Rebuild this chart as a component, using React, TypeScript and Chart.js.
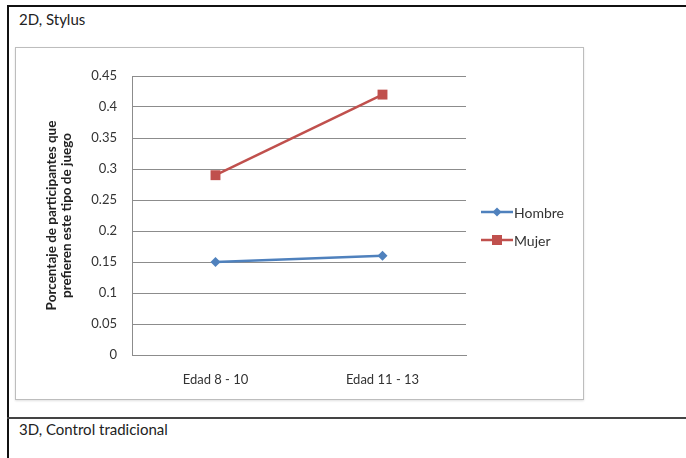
import React, { useEffect, useRef } from "react";
import { Chart, registerables } from "chart.js";

Chart.register(...registerables);

const categories = ["Edad 8 - 10", "Edad 11 - 13"];
const hombre = [0.15, 0.16];
const mujer = [0.29, 0.42];
const yTickValues = [0, 0.05, 0.1, 0.15, 0.2, 0.25, 0.3, 0.35, 0.4, 0.45];
const yTitle = ["Porcentaje de participantes que", "prefieren este tipo de juego"];

const FONT = "Lato, 'Open Sans', sans-serif";

const legendPlugin = {
  id: "excelLegend",
  afterDraw(chart: any) {
    const ctx = chart.ctx;
    const x0 = chart.chartArea.right + 15;
    const ys = [164, 192];
    chart.data.datasets.forEach((ds: any, i: number) => {
      const y = ys[i];
      ctx.save();
      ctx.strokeStyle = ds.borderColor;
      ctx.lineWidth = 2.5;
      ctx.beginPath();
      ctx.moveTo(x0, y);
      ctx.lineTo(x0 + 32, y);
      ctx.stroke();
      ctx.fillStyle = ds.backgroundColor;
      ctx.beginPath();
      if (ds.pointStyle === "rect") {
        ctx.rect(x0 + 16 - 5, y - 5, 10, 10);
      } else {
        ctx.moveTo(x0 + 16, y - 4.5);
        ctx.lineTo(x0 + 20.5, y);
        ctx.lineTo(x0 + 16, y + 4.5);
        ctx.lineTo(x0 + 11.5, y);
        ctx.closePath();
      }
      ctx.fill();
      ctx.fillStyle = "#333";
      ctx.font = `14px ${FONT}`;
      ctx.textBaseline = "middle";
      ctx.textAlign = "left";
      ctx.fillText(ds.label, x0 + 33, y + 1);
      ctx.restore();
    });
  },
};

function LineChart() {
  const ref = useRef<HTMLCanvasElement>(null);
  useEffect(() => {
    const chart = new Chart(ref.current!, {
      type: "line",
      data: {
        labels: categories,
        datasets: [
          {
            label: "Hombre",
            data: hombre,
            borderColor: "#4f81bd",
            backgroundColor: "#4f81bd",
            borderWidth: 2.5,
            pointStyle: "rectRot",
            pointRadius: 5,
            pointBorderWidth: 0,
          },
          {
            label: "Mujer",
            data: mujer,
            borderColor: "#c0504d",
            backgroundColor: "#c0504d",
            borderWidth: 2.5,
            pointStyle: "rect",
            pointRadius: 7,
            pointBorderWidth: 0,
          },
        ],
      },
      options: {
        animation: false,
        responsive: false,
        maintainAspectRatio: false,
        layout: { padding: { left: 25, top: 28, right: 117, bottom: 4 } },
        plugins: { legend: { display: false }, tooltip: { enabled: false } },
        scales: {
          x: {
            offset: true,
            grid: { display: false, drawTicks: false },
            border: { color: "#8c8c8c", width: 1 },
            ticks: { color: "#333", font: { family: FONT, size: 13 }, padding: 17 },
            afterFit: (s: any) => {
              s.height = 39;
            },
          },
          y: {
            min: 0,
            max: 0.45,
            afterBuildTicks: (s: any) => {
              s.ticks = yTickValues.map((v) => ({ value: v }));
            },
            grid: { color: "#8c8c8c", lineWidth: 1, drawTicks: false },
            border: { color: "#8c8c8c", width: 1 },
            ticks: {
              color: "#333",
              font: { family: FONT, size: 13 },
              padding: 15,
              callback: (v: any) => String(parseFloat(Number(v).toFixed(2))),
            },
            title: {
              display: true,
              text: yTitle,
              color: "#222",
              font: { family: FONT, size: 13.5, weight: "bold", lineHeight: 1.05 },
              padding: { top: 4, bottom: 0 },
            },
            afterFit: (s: any) => {
              s.width = 91;
            },
          },
        },
      },
      plugins: [legendPlugin],
    });
    return () => chart.destroy();
  }, []);
  return <canvas ref={ref} width={567} height={350} style={{ position: "absolute", left: 16, top: 48, width: 567, height: 350 }} />;
}

export default function App() {
  return (
    <div style={{ position: "absolute", left: 0, top: 0, width: 686, height: 458, background: "#fff", overflow: "hidden", fontFamily: FONT }}>
      <div style={{ position: "absolute", left: 7, top: 5, width: 679, height: 2, background: "#111" }} />
      <div style={{ position: "absolute", left: 7, top: 5, width: 2, height: 453, background: "#111" }} />
      <div style={{ position: "absolute", left: 19, top: 10, fontSize: 15, color: "#222", lineHeight: "18px" }}>2D, Stylus</div>
      <div style={{ position: "absolute", left: 15, top: 47, width: 567, height: 351, border: "1px solid #bdbdbd", boxShadow: "0 1px 2px rgba(0,0,0,0.12)" }} />
      <LineChart />
      <div style={{ position: "absolute", left: 7, top: 417, width: 679, height: 2, background: "#444" }} />
      <div style={{ position: "absolute", left: 19, top: 420, fontSize: 15, color: "#222", lineHeight: "18px" }}>3D, Control tradicional</div>
    </div>
  );
}
